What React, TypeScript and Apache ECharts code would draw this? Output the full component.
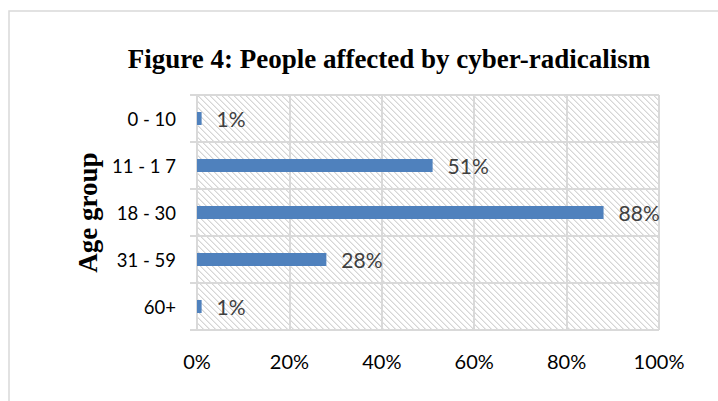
import React, { useEffect, useRef } from "react";
import * as echarts from "echarts";

const categories = ["0 - 10", "11 - 1 7", "18 - 30", "31 - 59", "60+"];
const values = [1, 51, 88, 28, 1];
const xTicks = [0, 20, 40, 60, 80, 100];

function makeHatch(): HTMLCanvasElement {
  const n = 6;
  const c = document.createElement("canvas");
  c.width = n;
  c.height = n;
  const ctx = c.getContext("2d")!;
  ctx.fillStyle = "#ffffff";
  ctx.fillRect(0, 0, n, n);
  const img = ctx.getImageData(0, 0, n, n);
  for (let y = 0; y < n; y++) {
    for (let x = 0; x < n; x++) {
      const d = ((x - y) % n + n) % n;
      if (d === 0 || d === 1) {
        const i = (y * n + x) * 4;
        const v = (x + y) % 2 === 0 ? 214 : 234;
        img.data[i] = v;
        img.data[i + 1] = v;
        img.data[i + 2] = v;
        img.data[i + 3] = 255;
      }
    }
  }
  ctx.putImageData(img, 0, 0);
  return c;
}

export default function App() {
  const ref = useRef<HTMLDivElement>(null);
  useEffect(() => {
    if (!ref.current) return;
    const chart = echarts.init(ref.current, null, { renderer: "svg" });
    const hatch = makeHatch();
    chart.setOption({
      animation: false,
      backgroundColor: "#ffffff",
      title: {
        text: "Figure 4: People affected by cyber-radicalism",
        left: 384,
        top: 40,
        textAlign: "center",
        textStyle: {
          fontFamily: "Liberation Serif",
          fontWeight: "bold",
          fontSize: 27,
          color: "#000000",
        },
      },
      graphic: [
        {
          type: "rect",
          shape: { x: 9, y: 11, width: 760, height: 500 },
          style: { fill: "none", stroke: "#d9d9d9", lineWidth: 1.5 },
          silent: true,
        },
      ],
      grid: {
        left: 197,
        right: 59,
        top: 95,
        bottom: 71,
        show: true,
        borderWidth: 0,
        backgroundColor: { image: hatch, repeat: "repeat" },
      },
      xAxis: {
        type: "value",
        min: 0,
        max: 100,
        interval: 20,
        axisLine: { show: false },
        axisTick: { show: false },
        splitLine: { show: true, lineStyle: { color: "#d9d9d9", width: 2 } },
        axisLabel: {
          formatter: (v: number) => (xTicks.includes(v) ? v + "%" : ""),
          fontFamily: "Lato",
          fontSize: 20,
          color: "#000000",
          margin: 21,
        },
      },
      yAxis: {
        type: "category",
        data: categories,
        inverse: true,
        name: "Age group",
        nameLocation: "middle",
        nameRotate: 90,
        nameGap: 91,
        nameTextStyle: {
          fontFamily: "Liberation Serif",
          fontWeight: "bold",
          fontSize: 27,
          color: "#000000",
        },
        axisLine: { show: true, lineStyle: { color: "#d9d9d9", width: 2 } },
        axisTick: { show: true, length: 7, lineStyle: { color: "#d9d9d9", width: 2 } },
        splitLine: { show: true, lineStyle: { color: "#d9d9d9", width: 2 } },
        axisLabel: {
          fontFamily: "Lato",
          fontSize: 18.5,
          color: "#000000",
          margin: 21,
        },
      },
      series: [
        {
          type: "bar",
          data: values,
          barWidth: 13,
          itemStyle: { color: "#4f81bd" },
          label: {
            show: true,
            position: "right",
            distance: 15,
            formatter: "{c}%",
            fontFamily: "Lato",
            fontSize: 21,
            color: "#404040",
          },
        },
      ],
    });
    return () => chart.dispose();
  }, []);
  return (
    <div
      ref={ref}
      style={{ position: "absolute", left: 0, top: 0, width: 718, height: 401 }}
    />
  );
}
